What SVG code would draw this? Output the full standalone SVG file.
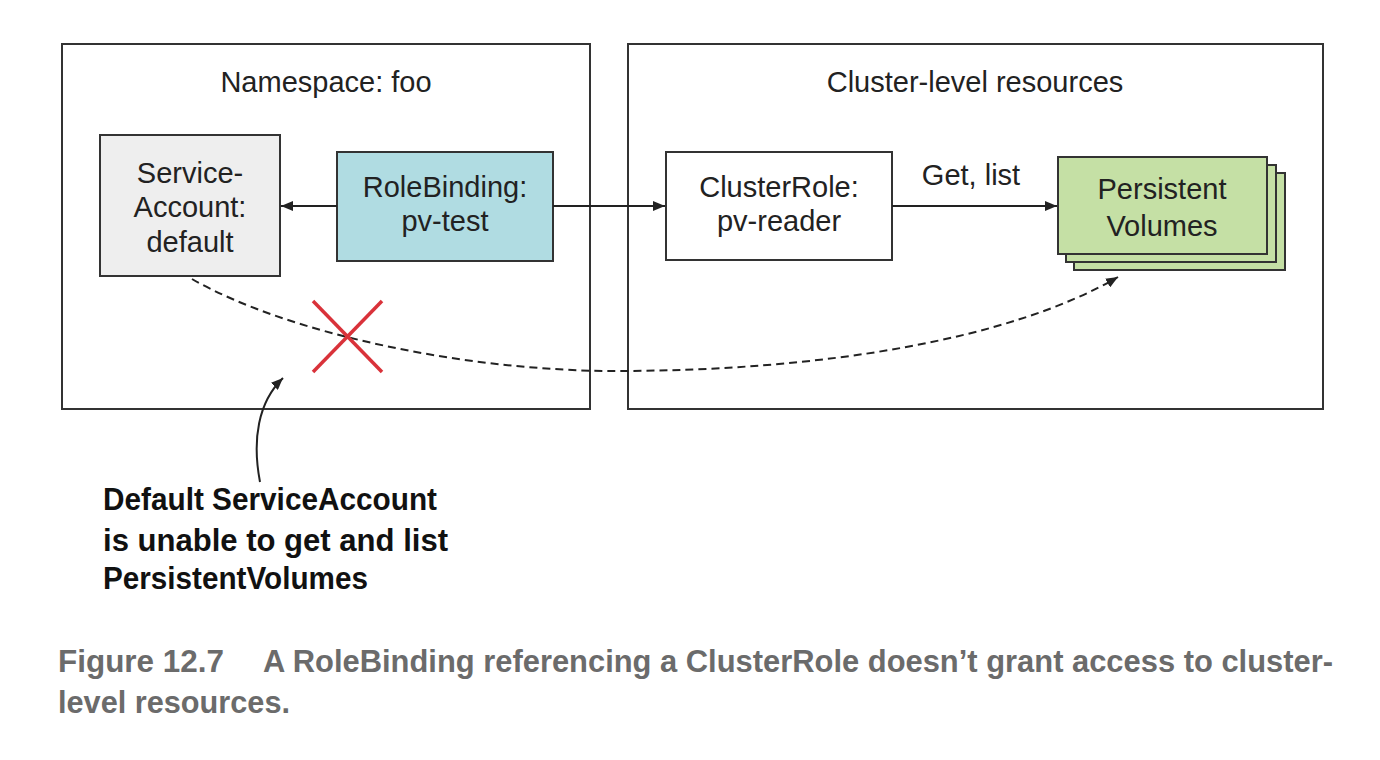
<svg xmlns="http://www.w3.org/2000/svg" width="1380" height="760" viewBox="0 0 1380 760">
<style>
.box{stroke:#333;stroke-width:2}
.cont{fill:#fff;stroke:#333;stroke-width:2}
.t{font-family:"Liberation Sans",Arial,sans-serif;font-size:29px;fill:#222;text-anchor:middle}
.note{font-family:"Liberation Sans Narrow","Liberation Sans",sans-serif;font-weight:bold;font-size:31px;fill:#111}
.cap{font-family:"Liberation Sans Narrow","Liberation Sans",sans-serif;font-weight:bold;font-size:31px;fill:#6b6b6b}
.ln{fill:none;stroke:#222;stroke-width:2}
</style>
<defs>
<marker id="ah" viewBox="0 0 12 10" refX="12" refY="5" markerWidth="12" markerHeight="10" markerUnits="userSpaceOnUse" orient="auto">
<path d="M0,0 L12,5 L0,10 z" fill="#222"/>
</marker>
</defs>
<rect width="1380" height="760" fill="#fff"/>
<g id="namespace">
<rect class="cont" x="62" y="44" width="528" height="365"/>
<text class="t" x="326" y="92">Namespace: foo</text>
</g>
<g id="cluster">
<rect class="cont" x="628" y="44" width="695" height="365"/>
<text class="t" x="975" y="92">Cluster-level resources</text>
</g>
<g id="serviceaccount">
<rect class="box" x="100" y="135" width="180" height="141" fill="#eeeeee"/>
<text class="t" x="190" y="183">Service-</text>
<text class="t" x="190" y="217">Account:</text>
<text class="t" x="190" y="252">default</text>
</g>
<g id="rolebinding">
<rect class="box" x="337" y="152" width="216" height="109" fill="#b0dce2"/>
<text class="t" x="445" y="197">RoleBinding:</text>
<text class="t" x="445" y="231">pv-test</text>
</g>
<g id="clusterrole">
<rect class="box" x="666" y="152" width="226" height="108" fill="#fff"/>
<text class="t" x="779" y="197">ClusterRole:</text>
<text class="t" x="779" y="231">pv-reader</text>
</g>
<g id="pvs">
<rect class="box" x="1074" y="173" width="211" height="97" fill="#c5e0a5"/>
<rect class="box" x="1066" y="165" width="210" height="97" fill="#c5e0a5"/>
<rect class="box" x="1058" y="157" width="209" height="97" fill="#c5e0a5"/>
<text class="t" x="1162" y="199">Persistent</text>
<text class="t" x="1162" y="236">Volumes</text>
</g>
<g id="connectors">
<line class="ln" x1="337" y1="206" x2="281" y2="206" marker-end="url(#ah)"/>
<line class="ln" x1="553" y1="206" x2="665" y2="206" marker-end="url(#ah)"/>
<line class="ln" x1="892" y1="206" x2="1057" y2="206" marker-end="url(#ah)"/>
<text class="t" x="971" y="185">Get, list</text>
<path class="ln" d="M192 279 C290 335 470 371 615 371 C820 371 1010 340 1118 277" stroke-dasharray="8 5" marker-end="url(#ah)"/>
<path class="ln" d="M260 482 C252 440 258 402 283 378" stroke-width="1.5" marker-end="url(#ah)"/>
</g>
<g id="cross" stroke="#d9323a" stroke-width="3.5">
<line x1="313" y1="301" x2="382" y2="372"/>
<line x1="382" y1="301" x2="313" y2="372"/>
</g>
<g id="note">
<text class="note" x="103" y="510" textLength="334" lengthAdjust="spacingAndGlyphs">Default ServiceAccount</text>
<text class="note" x="103" y="551" textLength="345" lengthAdjust="spacingAndGlyphs">is unable to get and list</text>
<text class="note" x="103" y="589" textLength="265" lengthAdjust="spacingAndGlyphs">PersistentVolumes</text>
</g>
<g id="caption">
<text class="cap" x="58" y="672" textLength="166" lengthAdjust="spacingAndGlyphs">Figure 12.7</text>
<text class="cap" x="263" y="672" textLength="1070" lengthAdjust="spacingAndGlyphs">A RoleBinding referencing a ClusterRole doesn’t grant access to cluster-</text>
<text class="cap" x="58" y="713" textLength="232" lengthAdjust="spacingAndGlyphs">level resources.</text>
</g>
</svg>
